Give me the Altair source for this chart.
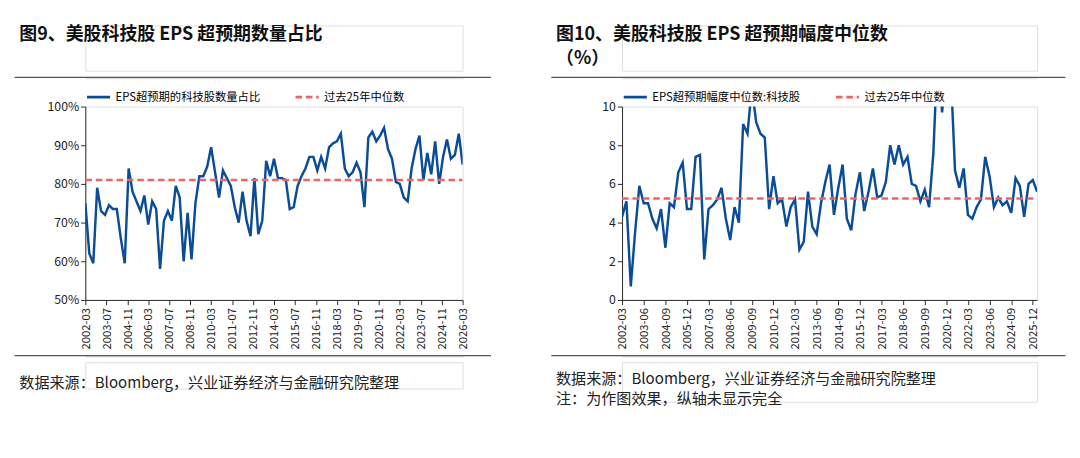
import pandas as pd
import altair as alt

FONT = "Noto Sans CJK SC"

left_vals = [75, 62, 59.5, 79, 73, 72, 74.5, 73.5, 73.5, 66, 59.5, 84, 78, 75.5, 73, 77,
             69.5, 75.5, 73.5, 58, 70.5, 73, 70.5, 79.5, 76.5, 60, 72.5, 60.5, 75, 82, 82,
             84.5, 89.5, 83, 76.5, 83.5, 81.5, 79.5, 74, 70, 78, 70.5, 66.5, 81.5, 67, 70.5,
             86, 82, 86.5, 81.5, 81.5, 81, 73.5, 74, 79.5, 82, 84, 87, 87, 83.5, 87, 84, 89.5,
             90.5, 91, 93, 84, 82, 83, 85.5, 83, 74, 92, 93.5, 91, 92.5, 94.5, 89, 86.5, 80.5,
             80, 76.5, 75.5, 84, 89, 92.5, 81, 88, 82.5, 91, 80, 87, 91.5, 86.5, 87.5, 93, 85]
right_vals = [4.3, 5.1, 0.7, 3.5, 5.9, 5.0, 5.0, 4.2, 3.7, 4.7, 2.7, 5.0, 4.8, 6.6, 7.1, 4.7,
              4.7, 7.4, 7.5, 2.1, 4.7, 4.9, 5.2, 5.8, 4.2, 3.1, 4.8, 4.0, 9.1, 8.6, 11, 9.2,
              8.6, 8.4, 4.7, 6.4, 5.0, 5.2, 3.8, 4.8, 5.2, 2.6, 3.0, 5.6, 3.8, 3.4, 5.0, 6.1,
              7.0, 4.4, 5.8, 7.0, 4.2, 3.6, 5.5, 6.6, 4.6, 5.6, 6.8, 5.3, 5.4, 6.1, 8.0, 7.0,
              8.0, 7.0, 7.4, 6.0, 5.9, 5.1, 5.7, 4.8, 7.6, 13, 9.7, 12, 12, 6.7, 5.8, 6.8, 4.4,
              4.2, 4.8, 5.2, 7.4, 6.4, 4.8, 5.3, 4.9, 5.1, 4.5, 6.3, 5.9, 4.3, 6.0, 6.2, 5.6]
left_median = 81.0
right_median = 5.25
left_ticks = ["2002-03", "2003-07", "2004-11", "2006-03", "2007-07", "2008-11", "2010-03",
              "2011-07", "2012-11", "2014-03", "2015-07", "2016-11", "2018-03", "2019-07",
              "2020-11", "2022-03", "2023-07", "2024-11", "2026-03"]
right_ticks = ["2002-03", "2003-06", "2004-09", "2005-12", "2007-03", "2008-06", "2009-09",
               "2010-12", "2012-03", "2013-06", "2014-09", "2015-12", "2017-03", "2018-06",
               "2019-09", "2020-12", "2022-03", "2023-06", "2024-09", "2025-12"]

BLUE = "#0a4c97"
RED = "#f06464"


def ts(labels):
    return [{"year": int(s[:4]), "month": int(s[5:]), "date": 1} for s in labels]


def panel(vals, median, name, ymin, ymax, ystep, suffix, ticks, title, notes, w):
    dates = pd.date_range("2002-03-01", periods=len(vals), freq="3MS")
    df = pd.concat([
        pd.DataFrame({"date": dates, "v": vals, "s": name}),
        pd.DataFrame({"date": dates, "v": median, "s": "过去25年中位数"}),
    ])
    dom = [name, "过去25年中位数"]
    main = alt.Chart(df).mark_line(strokeWidth=2.6, clip=True).encode(
        alt.X("date:T", title=None,
              scale=alt.Scale(domain=[dates[0].isoformat(), dates[-1].isoformat()], nice=False),
              axis=alt.Axis(values=ts(ticks), format="%Y-%m", labelAngle=270, grid=False,
                            labelFontSize=12, labelColor="#222", domainColor="#222",
                            tickColor="#222", labelFont=FONT, labelPadding=3)),
        alt.Y("v:Q", title=None,
              scale=alt.Scale(domain=[ymin, ymax], nice=False),
              axis=alt.Axis(values=list(range(ymin, ymax + 1, ystep)),
                            labelExpr="datum.value + '" + suffix + "'", grid=False,
                            labelFontSize=13, labelColor="#222", domainColor="#222",
                            tickColor="#222", labelFont=FONT)),
        alt.Color("s:N", scale=alt.Scale(domain=dom, range=[BLUE, RED]),
                  legend=alt.Legend(orient="top", title=None, symbolType="stroke",
                                    symbolStrokeWidth=3, symbolSize=600, labelFontSize=12,
                                    labelFont=FONT, columnPadding=30, offset=4)),
        alt.StrokeDash("s:N", scale=alt.Scale(domain=dom, range=[[1, 0], [7, 4]]), legend=None),
    ).properties(width=w, height=205)

    head = alt.Chart(pd.DataFrame({"t": [title]})).mark_text(
        align="left", baseline="top", fontSize=19, fontWeight="bold", font=FONT,
        color="#111", lineBreak="\n", lineHeight=26
    ).encode(text="t:N", x=alt.value(-70), y=alt.value(0)).properties(width=w, height=48)
    line = alt.Chart(pd.DataFrame({"a": [0]})).mark_rule(color="#555", strokeWidth=1.5).encode(
        x=alt.value(-75), x2=alt.value(w + 30), y=alt.value(0)).properties(width=w, height=1)
    foot = alt.Chart(pd.DataFrame({"t": notes, "i": list(range(len(notes)))})).mark_text(
        align="left", baseline="top", fontSize=16, font=FONT, color="#222"
    ).encode(text="t:N", x=alt.value(-70), y=alt.Y("i:O", axis=None)).properties(
        width=w, height=14 * len(notes) + 14)
    footline = alt.Chart(pd.DataFrame({"a": [0]})).mark_rule(color="#555", strokeWidth=1.5).encode(
        x=alt.value(-75), x2=alt.value(w + 30), y=alt.value(0)).properties(width=w, height=1)
    return alt.vconcat(head, line, main, footline, foot, spacing=4).resolve_scale(
        color="independent", strokeDash="independent")


left = panel(left_vals, left_median, "EPS超预期的科技股数量占比", 50, 100, 10, "%",
             left_ticks, "图9、美股科技股 EPS 超预期数量占比",
             ["数据来源：Bloomberg，兴业证券经济与金融研究院整理"], 400)
right = panel(right_vals, right_median, "EPS超预期幅度中位数:科技股", 0, 10, 2, "",
              right_ticks, "图10、美股科技股 EPS 超预期幅度中位数\n（%）",
              ["数据来源：Bloomberg，兴业证券经济与金融研究院整理", "注：为作图效果，纵轴未显示完全"], 440)

chart = alt.hconcat(left, right, spacing=60).resolve_scale(
    color="independent", strokeDash="independent"
).configure_view(strokeOpacity=0).configure(font=FONT)
chart.save("out.html", embed_options={"renderer": "svg", "actions": False})
